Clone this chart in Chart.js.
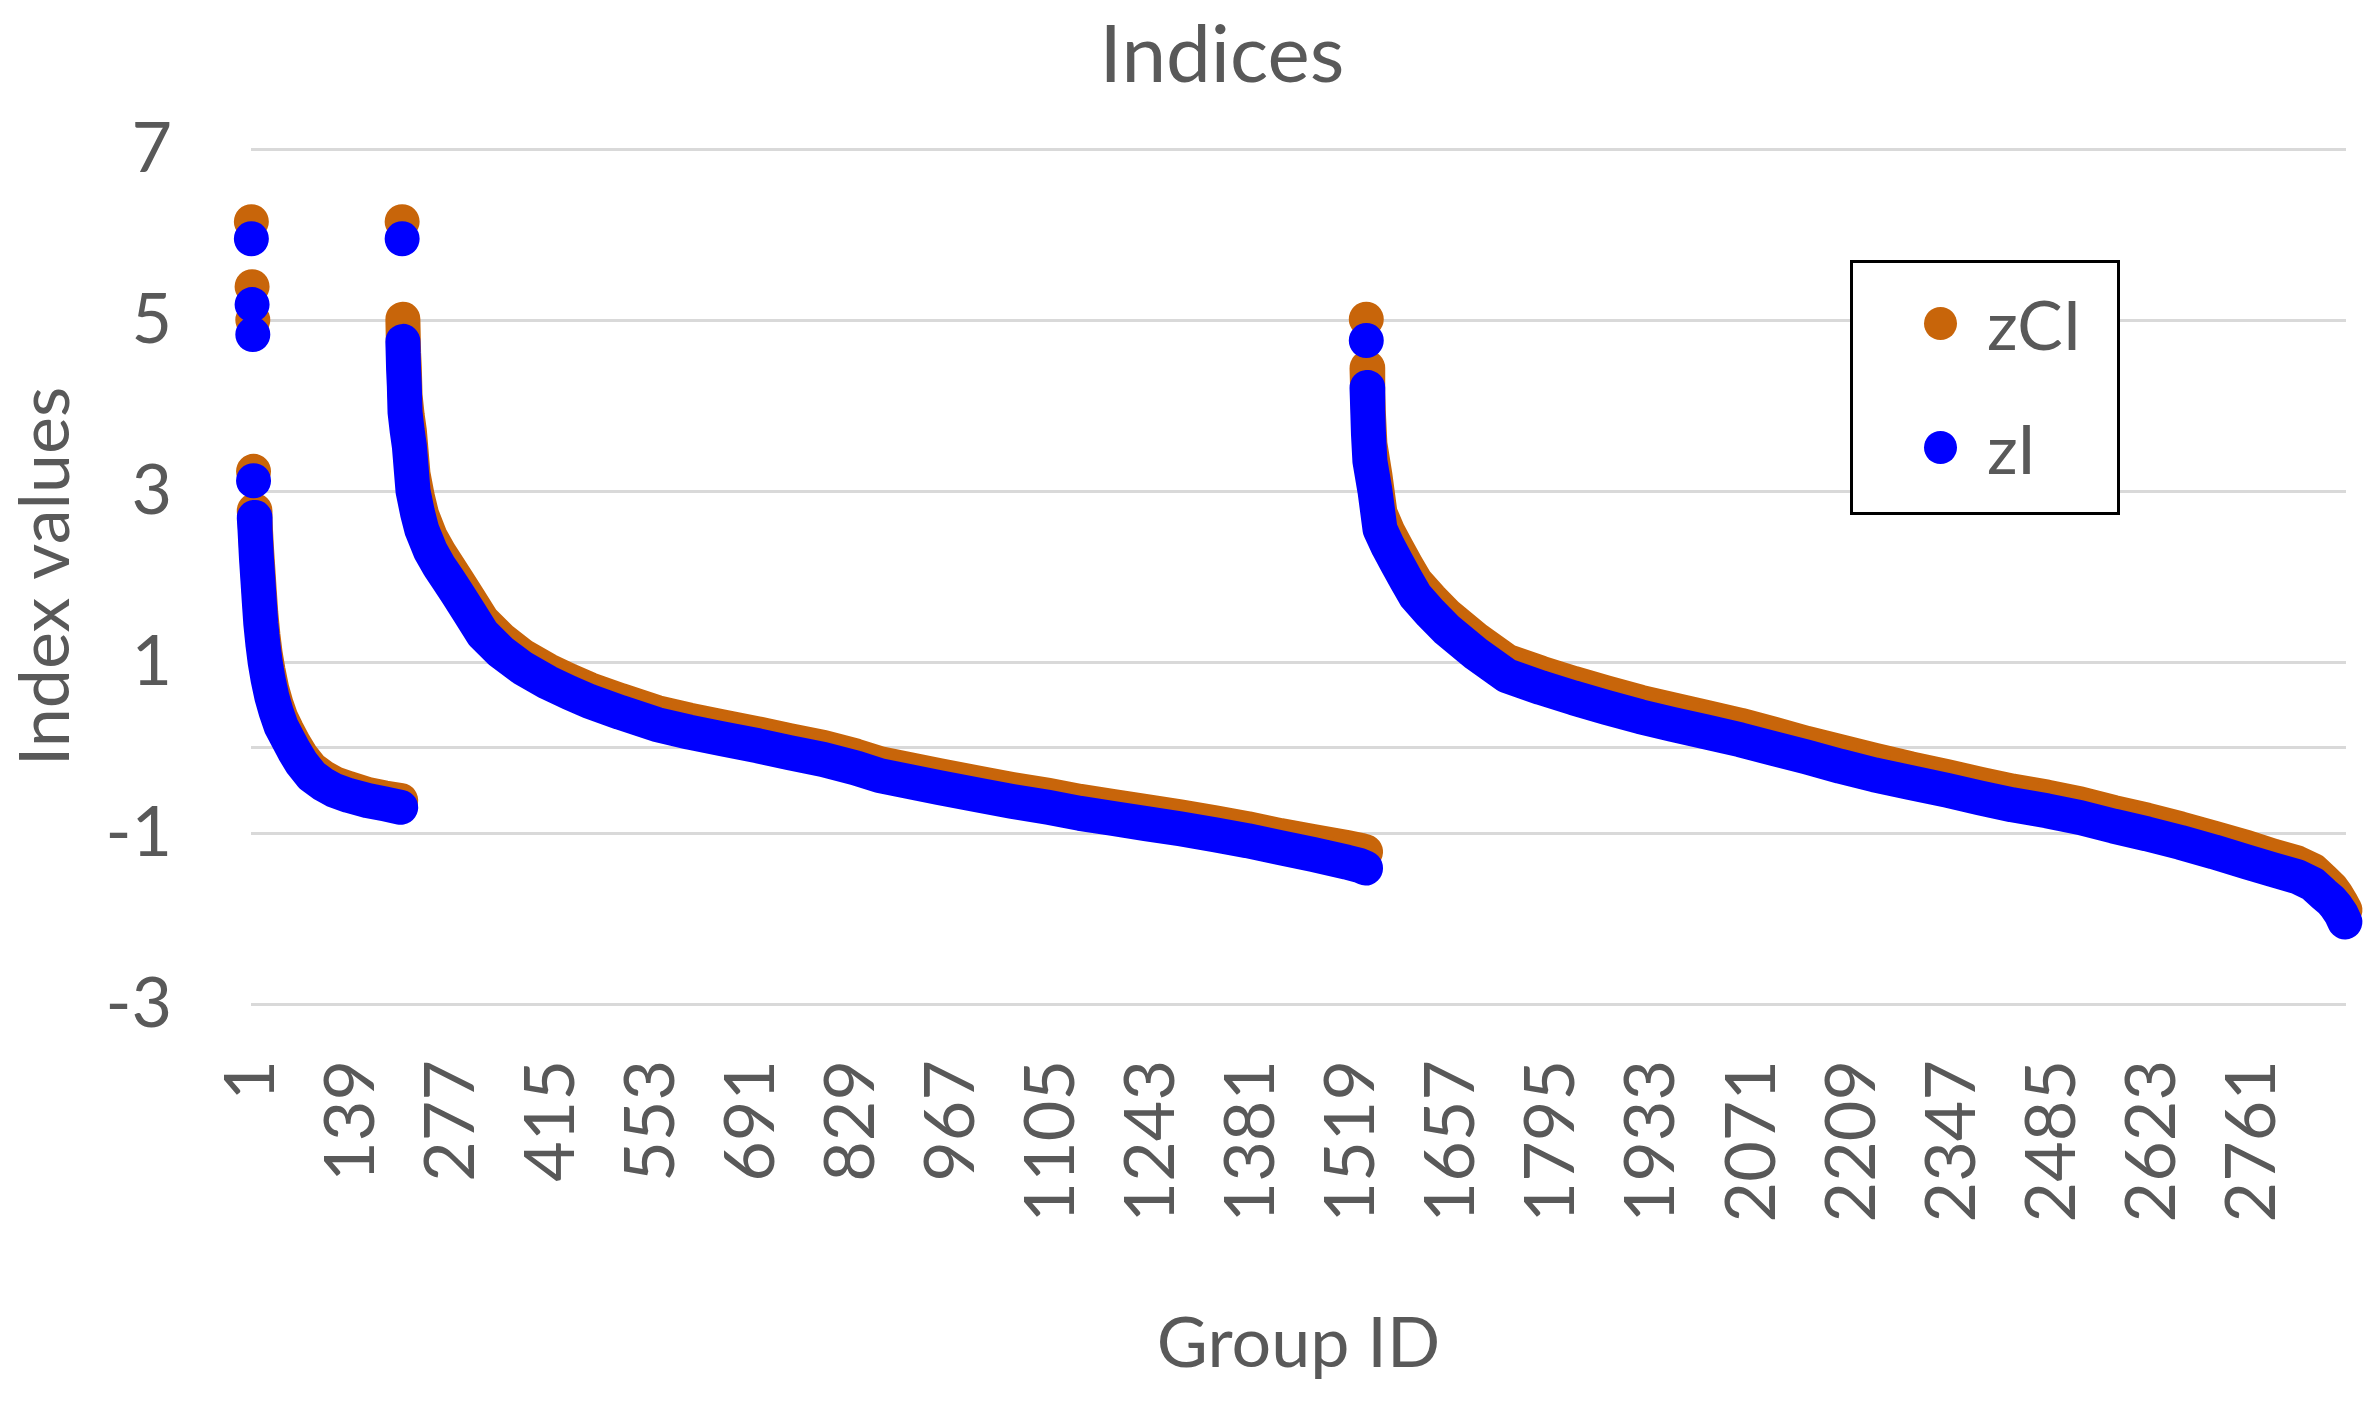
<!DOCTYPE html>
<html lang="en">
<head>
    <meta charset="UTF-8">
    <title>Indices</title>
    <script src="https://cdn.jsdelivr.net/npm/chart.js"></script>
    <style>
        html, body { margin: 0; padding: 0; background: #fff; overflow: hidden; }
        #wrap { position: relative; width: 2373px; height: 1402px; }
        #wrap canvas { display: block; }
        #legend {
            position: absolute; left: 1850px; top: 260px; width: 270px; height: 255px;
            box-sizing: border-box; border: 3px solid #000; background: #fff;
            font-family: Lato, 'Open Sans', sans-serif; font-size: 68px; color: #595959;
        }
        #legend .item { position: absolute; left: 0; height: 80px; display: flex; align-items: center; }
        #legend .dot { width: 33px; height: 33px; border-radius: 50%; margin-left: 71px; margin-right: 30px; }
    </style>
</head>
<body>
<div id="wrap">
    <canvas id="indicesChart"></canvas>
    <div id="legend"></div>
</div>
<script>
    // Group IDs (x positions); a null in the value arrays breaks the line between isolated dots
    const groupIds = [
        1, 1, 2, 2, 3, 3, 4, 4,
        5, 6, 8, 10, 12, 14, 17, 20, 24, 29, 35, 42, 50, 60, 70, 84, 100, 115, 135, 161, 185, 207, 207,
        209, 209,
        210, 211, 212, 213, 216, 219, 224, 230, 236, 248, 260, 272, 285, 300, 320, 345, 375, 410, 440, 467,
        510, 560, 605, 651, 700, 743, 790, 835, 868, 909, 950, 1006, 1050, 1100, 1144, 1190, 1235, 1282,
        1330, 1375, 1420, 1465, 1512, 1530, 1538, 1538,
        1539, 1539,
        1540, 1541, 1542, 1544, 1551, 1558, 1569, 1581, 1594, 1607, 1628, 1650, 1690, 1733, 1780, 1825,
        1870, 1917, 1962, 2009, 2055, 2100, 2146, 2193, 2240, 2290, 2340, 2386, 2430, 2478, 2524, 2570,
        2616, 2662, 2708, 2754, 2790, 2823, 2845, 2859, 2870, 2877, 2884, 2889
    ];

    const zCI = [
        6.15, null, 5.39, null, 5.00, null, 3.23, null,
        2.77, 2.66, 2.34, 2.08, 1.82, 1.57, 1.31, 1.10, 0.90, 0.69, 0.51, 0.34, 0.20, 0.04, -0.10, -0.25, -0.35, -0.42, -0.48, -0.55, -0.59, -0.62, null,
        6.15, null,
        5.01, 4.62, 4.44, 4.12, 3.88, 3.70, 3.20, 2.93, 2.72, 2.46, 2.28, 2.12, 1.95, 1.75, 1.48, 1.27, 1.07, 0.90, 0.78, 0.68,
        0.55, 0.41, 0.32, 0.24, 0.16, 0.08, 0.00, -0.10, -0.19, -0.26, -0.33, -0.42, -0.49, -0.56, -0.63, -0.69, -0.75, -0.81,
        -0.88, -0.95, -1.03, -1.10, -1.17, -1.20, -1.22, null,
        5.01, null,
        4.44, 4.15, 3.90, 3.55, 3.18, 2.74, 2.52, 2.33, 2.13, 1.94, 1.74, 1.55, 1.27, 1.01, 0.87, 0.75,
        0.64, 0.53, 0.44, 0.35, 0.26, 0.16, 0.05, -0.05, -0.15, -0.25, -0.34, -0.43, -0.51, -0.58, -0.66, -0.76,
        -0.85, -0.95, -1.06, -1.17, -1.27, -1.35, -1.44, -1.55, -1.64, -1.72, -1.82, -1.90
    ];

    const zI = [
        5.95, null, 5.18, null, 4.83, null, 3.12, null,
        2.69, 2.55, 2.22, 1.96, 1.70, 1.45, 1.20, 1.00, 0.80, 0.60, 0.42, 0.25, 0.12, -0.04, -0.18, -0.33, -0.43, -0.50, -0.56, -0.62, -0.66, -0.70, null,
        5.95, null,
        4.75, 4.42, 4.23, 3.92, 3.70, 3.52, 3.00, 2.75, 2.55, 2.30, 2.12, 1.97, 1.80, 1.60, 1.33, 1.12, 0.93, 0.76, 0.64, 0.54,
        0.41, 0.27, 0.18, 0.10, 0.02, -0.06, -0.14, -0.24, -0.33, -0.40, -0.47, -0.56, -0.63, -0.70, -0.77, -0.83, -0.89, -0.95,
        -1.02, -1.09, -1.17, -1.25, -1.34, -1.38, -1.41, null,
        4.76, null,
        4.21, 3.95, 3.67, 3.35, 3.00, 2.55, 2.35, 2.16, 1.96, 1.77, 1.57, 1.38, 1.10, 0.84, 0.70, 0.58,
        0.47, 0.36, 0.27, 0.18, 0.09, -0.01, -0.11, -0.22, -0.32, -0.41, -0.50, -0.59, -0.67, -0.74, -0.82, -0.92,
        -1.01, -1.11, -1.22, -1.34, -1.43, -1.51, -1.60, -1.71, -1.79, -1.86, -1.95, -2.04
    ];

    const xTicks = [1, 139, 277, 415, 553, 691, 829, 967, 1105, 1243, 1381, 1519, 1657, 1795, 1933, 2071, 2209, 2347, 2485, 2623, 2761];
    const yTicks = [-3, -1, 0, 1, 3, 5, 7];

    const FONT = "Lato, 'Open Sans', sans-serif";
    const TEXT = '#595959';
    const ORANGE = '#C8650A';
    const BLUE = '#0000FF';

    function series(label, values, color, order) {
        return {
            label: label,
            data: groupIds.map((x, i) => ({ x: x, y: values[i] })),
            borderColor: color,
            backgroundColor: color,
            borderWidth: 35,
            borderCapStyle: 'round',
            borderJoinStyle: 'round',
            pointRadius: 16.5,
            pointBorderWidth: 0,
            pointBackgroundColor: color,
            tension: 0,
            spanGaps: false,
            clip: false,
            order: order
        };
    }

    const chart = new Chart(document.getElementById('indicesChart'), {
        type: 'line',
        data: {
            datasets: [
                series('zCI', zCI, ORANGE, 2),
                series('zI', zI, BLUE, 1)
            ]
        },
        options: {
            responsive: true,
            maintainAspectRatio: false,
            animation: false,
            layout: { padding: { left: 98, right: 27, top: 0, bottom: 0 } },
            plugins: {
                legend: { display: false },
                tooltip: { enabled: false },
                title: {
                    display: true,
                    text: 'Indices',
                    color: TEXT,
                    font: { family: FONT, size: 80, weight: 'normal' },
                    padding: { top: 8, bottom: 45 }
                }
            },
            scales: {
                x: {
                    type: 'linear',
                    min: 0.5,
                    max: 2890.5,
                    grid: { display: false, drawTicks: false },
                    border: { display: false },
                    afterBuildTicks: s => { s.ticks = xTicks.map(v => ({ value: v })); },
                    afterFit: s => { s.height = 398; s.paddingLeft = 0; s.paddingRight = 0; },
                    ticks: {
                        autoSkip: false,
                        minRotation: 90,
                        maxRotation: 90,
                        padding: 56,
                        color: TEXT,
                        font: { family: FONT, size: 70 },
                        callback: v => String(v)
                    },
                    title: {
                        display: true,
                        text: 'Group ID',
                        color: TEXT,
                        font: { family: FONT, size: 70 },
                        padding: { top: 0, bottom: 16 }
                    }
                },
                y: {
                    min: -3,
                    max: 7,
                    grid: { color: '#D9D9D9', lineWidth: 3, drawTicks: false },
                    border: { display: false },
                    afterBuildTicks: s => { s.ticks = yTicks.map(v => ({ value: v })); },
                    afterFit: s => { s.width = 153; },
                    ticks: {
                        padding: 79,
                        color: TEXT,
                        font: { family: FONT, size: 70 },
                        callback: v => (v === 0 ? '' : String(v))
                    },
                    title: {
                        display: true,
                        text: 'Index values',
                        color: TEXT,
                        font: { family: FONT, size: 70 },
                        padding: { top: -94, bottom: 0 }
                    }
                }
            }
        }
    });

    // legend box drawn as html, built from the datasets
    const legend = document.getElementById('legend');
    chart.data.datasets.forEach((ds, i) => {
        const item = document.createElement('div');
        item.className = 'item';
        item.style.top = (20 + i * 124) + 'px';
        const dot = document.createElement('span');
        dot.className = 'dot';
        dot.style.background = ds.backgroundColor;
        const txt = document.createElement('span');
        txt.textContent = ds.label;
        item.appendChild(dot);
        item.appendChild(txt);
        legend.appendChild(item);
    });
</script>
</body>
</html>
